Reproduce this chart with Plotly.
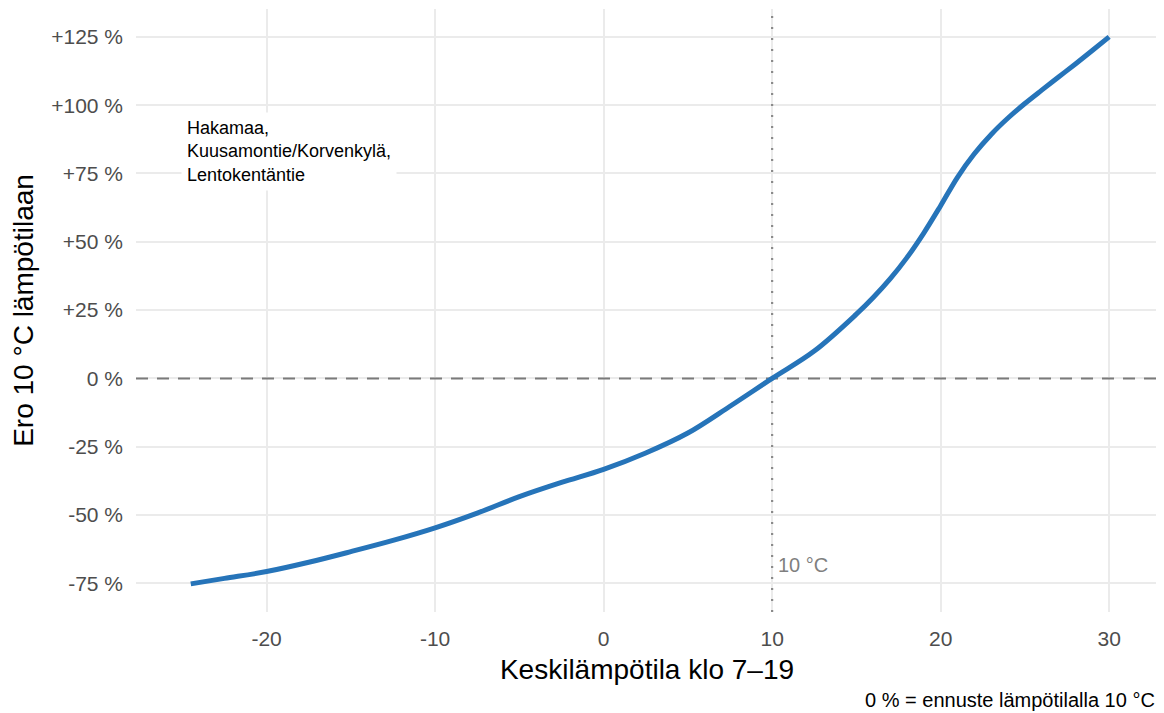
import plotly.graph_objects as go

# lämpötila (°C) ja ero 10 °C ennusteeseen (%)
temp = [-24.5, -22.5, -20, -17.5, -15, -12.5, -10, -7.5, -5, -2.5, 0, 2.5,
        5, 7.5, 10, 12.5, 15, 16, 17, 18, 19, 20, 21, 22, 23, 24,
        25, 26, 27, 28, 29, 30]
diff_pct = [-75.2, -73.2, -70.7, -67.3, -63.4, -59.3, -54.7, -49.3, -43.3,
            -38.1, -33.3, -27.3, -20.0, -10.2, 0.0, 10.0, 23.5, 29.6, 36.4,
            44.2, 53.2, 63.2, 73.6, 82.2, 89.3, 95.3, 100.6, 105.5, 110.3,
            115.1, 120.0, 125.0]

x_ticks = [-20, -10, 0, 10, 20, 30]
x_ticktext = ["-20", "-10", "0", "10", "20", "30"]
y_ticks = [-75, -50, -25, 0, 25, 50, 75, 100, 125]
y_ticktext = ["-75 %", "-50 %", "-25 %", "0 %", "+25 %", "+50 %", "+75 %", "+100 %", "+125 %"]

x_range = [-27.75, 32.9]
y_range = [-85.5, 135.2]
ref_temp = 10
site_label = "Hakamaa,<br>Kuusamontie/Korvenkylä,<br>Lentokentäntie"

FONT = "Liberation Sans, Arial, sans-serif"

fig = go.Figure()

# 0 % viiva ja 10 °C viiva (jäljinä, jotta ne piirtyvät ruudukon päälle)
fig.add_trace(
    go.Scatter(
        x=x_range, y=[0, 0], mode="lines",
        line=dict(color="#7a7a7a", width=2, dash="12px,9px"),
        hoverinfo="skip", showlegend=False,
    )
)
fig.add_trace(
    go.Scatter(
        x=[ref_temp, ref_temp], y=y_range, mode="lines",
        line=dict(color="#8a8a8a", width=2.2, dash="2px,9px"),
        hoverinfo="skip", showlegend=False,
    )
)

fig.add_trace(
    go.Scatter(
        x=temp,
        y=diff_pct,
        mode="lines",
        line=dict(color="#2674B9", width=5, shape="spline", smoothing=1),
        hoverinfo="skip",
        showlegend=False,
    )
)

fig.add_annotation(
    x=ref_temp, y=-68.3, text="10 °C", showarrow=False,
    xanchor="left", yanchor="middle", xshift=4,
    font=dict(family=FONT, size=20, color="#7f7f7f"),
)

fig.add_annotation(
    x=-25.06, y=97.5, text=site_label, showarrow=False,
    xanchor="left", yanchor="top", align="left",
    bgcolor="white", borderpad=5,
    font=dict(family=FONT, size=18, color="black"),
)

fig.add_annotation(
    xref="paper", yref="paper", x=1, y=-0.146, xshift=-1,
    text="0 % = ennuste lämpötilalla 10 °C", showarrow=False,
    xanchor="right", yanchor="middle",
    font=dict(family=FONT, size=20, color="black"),
)

fig.update_xaxes(
    range=x_range,
    tickvals=x_ticks, ticktext=x_ticktext,
    showgrid=True, gridcolor="#ebebeb", gridwidth=2,
    zeroline=False, showline=False, ticks="",
    ticklabelstandoff=12, automargin=False,
    tickfont=dict(family=FONT, size=21, color="#4d4d4d"),
    title=dict(text="Keskilämpötila klo 7–19", standoff=10,
               font=dict(family=FONT, size=28, color="black")),
)
fig.update_yaxes(
    range=y_range,
    tickvals=y_ticks, ticktext=y_ticktext,
    showgrid=True, gridcolor="#ebebeb", gridwidth=2,
    zeroline=False, showline=False, ticks="",
    ticklabelstandoff=12, automargin=False,
    tickfont=dict(family=FONT, size=21, color="#4d4d4d"),
    title=dict(text="Ero 10 °C lämpötilaan", standoff=14,
               font=dict(family=FONT, size=28, color="black")),
)

# sivun oletusmarginaali 8 px huomioitu koossa
fig.update_layout(
    width=1156, height=705,
    margin=dict(l=128, r=6, t=1, b=101),
    plot_bgcolor="white", paper_bgcolor="white",
    font=dict(family=FONT),
    showlegend=False,
)

fig.write_html("out.html")
